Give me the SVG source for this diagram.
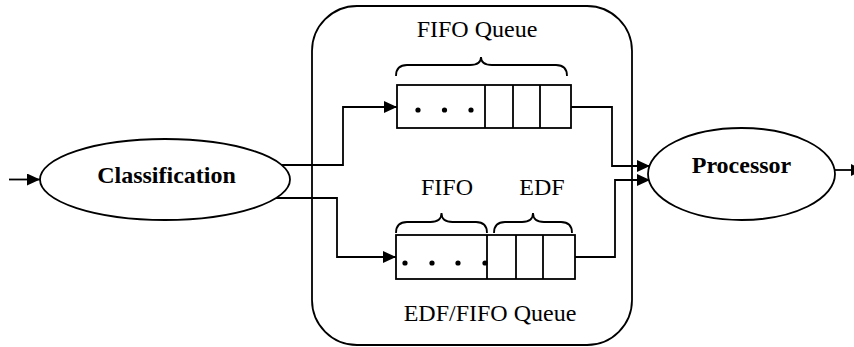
<svg xmlns="http://www.w3.org/2000/svg" width="854" height="347" viewBox="0 0 854 347">
<style>
.ln{fill:none;stroke:#000;stroke-width:1.8}
.box{fill:#fff;stroke:#000;stroke-width:1.8}
text{font-family:'Liberation Serif','Times New Roman',Times,serif;font-size:24px;fill:#000;text-anchor:middle}
.b{font-weight:bold}
.dot{fill:#000}
</style>
<defs>
<marker id="ah" markerUnits="userSpaceOnUse" markerWidth="13" markerHeight="12" refX="13" refY="6" orient="auto">
<path d="M0,0 L13,6 L0,12 z" fill="#000"/>
</marker>
</defs>
<rect id="container" x="312" y="6" width="320" height="339" rx="45" ry="45" class="ln"/>
<g id="connectors">
<path class="ln" d="M9,179.5 H40" marker-end="url(#ah)"/>
<path class="ln" d="M270,165 H343 V107 H397" marker-end="url(#ah)"/>
<path class="ln" d="M270,198 H337 V257 H396" marker-end="url(#ah)"/>
<path class="ln" d="M571,107 H612 V166 H650" marker-end="url(#ah)"/>
<path class="ln" d="M575,257 H615 V180 H650" marker-end="url(#ah)"/>
<path class="ln" d="M835,170 H864" marker-end="url(#ah)"/>
</g>
<g id="classification">
<ellipse class="box" cx="165" cy="179.5" rx="125" ry="40.5"/>
<text class="b" x="166.5" y="183" font-family="Liberation Serif, serif">Classification</text>
</g>
<g id="processor">
<ellipse class="box" cx="741.5" cy="174" rx="93.5" ry="46"/>
<text class="b" x="741.5" y="173" font-family="Liberation Serif, serif">Processor</text>
</g>
<g id="fifo-queue">
<text x="477" y="37" font-family="Liberation Serif, serif">FIFO Queue</text>
<path class="ln" d="M396,76 Q396,65 407,65 L470,65 Q481,65 481,57 Q481,65 492,65 L556,65 Q567,65 567,76"/>
<rect class="box" x="397" y="85" width="174" height="43"/>
<path class="ln" d="M485,85 V128 M513,85 V128 M540,85 V128"/>
<circle class="dot" cx="418" cy="110" r="2.6"/>
<circle class="dot" cx="444.5" cy="110" r="2.6"/>
<circle class="dot" cx="471" cy="110" r="2.6"/>
</g>
<g id="edf-fifo-queue">
<text x="447" y="195" font-family="Liberation Serif, serif">FIFO</text>
<text x="542" y="195" font-family="Liberation Serif, serif">EDF</text>
<path class="ln" d="M396,233 Q396,222 407,222 L430.5,222 Q441.5,222 441.5,213 Q441.5,222 452.5,222 L476,222 Q487,222 487,233"/>
<path class="ln" d="M494,233 Q494,222 505,222 L522,222 Q533,222 533,213 Q533,222 544,222 L561,222 Q572,222 572,233"/>
<rect class="box" x="396" y="235" width="179" height="44"/>
<path class="ln" d="M487,235 V279 M516,235 V279 M543,235 V279"/>
<circle class="dot" cx="405" cy="263" r="2.6"/>
<circle class="dot" cx="432" cy="263" r="2.6"/>
<circle class="dot" cx="458" cy="263" r="2.6"/>
<circle class="dot" cx="485" cy="263" r="2.6"/>
<text x="490" y="321" font-family="Liberation Serif, serif">EDF/FIFO Queue</text>
</g>
</svg>
